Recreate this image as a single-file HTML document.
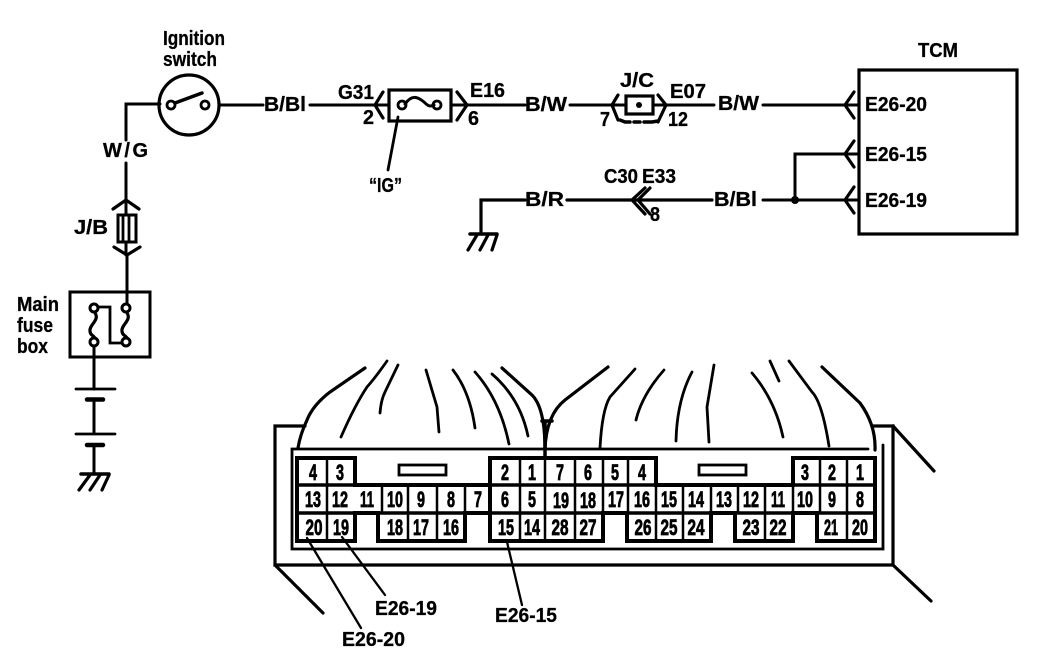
<!DOCTYPE html>
<html><head><meta charset="utf-8"><style>
html,body{margin:0;padding:0;background:#fff;width:1056px;height:654px;overflow:hidden}
svg{display:block}
text{font-family:"Liberation Sans",sans-serif;font-weight:bold;fill:#000;stroke:#000;stroke-width:.3}
.l{font-size:20px}
.n{font-size:22px;text-anchor:middle;stroke-width:.8}
path,line,polyline,circle.o,rect.o{fill:none;stroke:#000;stroke-linecap:round;stroke-linejoin:miter}
</style></head><body>
<svg width="1056" height="654" viewBox="0 0 1056 654" xmlns="http://www.w3.org/2000/svg">
<!-- wires -->
<g stroke-width="3">
<path d="M126 140V104H160M126 163V255M127 255V292"/>
<path d="M219 105H263" stroke-width="3"/>
<path d="M310 105H389M451 105H525" stroke-width="3"/>
<path d="M570 105H626M653 105H714M763 105H858" stroke-width="3"/>
<path d="M858 154H795V200M763 200H858" stroke-width="3"/>
<path d="M481 233V200H525M567 200H712" stroke-width="3.200"/>
<path d="M94 346V389M94 400V433M94 445V474"/>
</g>
<!-- chevrons -->
<g stroke-width="3.200">
<path d="M113 209L126 200L139 209"/>
<path d="M114 247L127 255L140 247"/>
<path d="M383 92L375 105L383 118"/>
<path d="M457 92L467 105L457 120"/>
<path d="M618 95L612 105L618 120"/>
<path d="M658 95L666 105L658 122"/>
<path d="M854 92L845 105L854 118"/>
<path d="M854 141L845 154L854 167"/>
<path d="M854 187L845 200L854 213"/>
<path d="M645 188L632 200L645 214M650 188L638 200L650 214"/>
</g>
<!-- ignition switch -->
<circle class="o" cx="189" cy="105" r="30" stroke-width="3.200"/>
<circle class="o" cx="171" cy="105" r="4" stroke-width="2.800" style="fill:#fff"/>
<circle class="o" cx="205" cy="105" r="4" stroke-width="2.800" style="fill:#fff"/>
<path d="M175 103L202 93" stroke-width="3.500"/>
<!-- J/B fuse -->
<rect class="o" x="118" y="215" width="18" height="27" stroke-width="3" style="fill:#fff"/>
<path d="M123 215V242M129 215V242" stroke-width="2.800"/>
<!-- main fuse box -->
<rect class="o" x="70" y="292" width="80" height="65" stroke-width="3"/>
<path d="M98 307H110V343H122" stroke-width="2.800"/>
<path d="M95 313C100 320 89 325 90 331C90 335 93 335 95 338M127 313C132 320 121 325 122 331C122 335 125 335 127 338" stroke-width="3.200"/>
<path d="M127 292V304" stroke-width="3"/>
<circle class="o" cx="94" cy="308" r="4" stroke-width="3"/>
<circle class="o" cx="94" cy="342" r="4" stroke-width="3"/>
<circle class="o" cx="126" cy="308" r="4" stroke-width="3"/>
<circle class="o" cx="126" cy="342" r="4" stroke-width="3"/>
<!-- battery -->
<path d="M76 389H115M76 434H115" stroke-width="2.800"/>
<path d="M87 399.500H103M87 445H103" stroke-width="4.500"/>
<!-- grounds -->
<path d="M81 474H109M470 234H497" stroke-width="3.500"/>
<path d="M90 475L79 490M100 475L90 490M109 475L102 490M477 235L468 250M488 235L480 250M497 235L492 250" stroke-width="3.200"/>
<!-- G31 fuse -->
<rect class="o" x="389" y="90" width="62" height="31" stroke-width="3.200" style="fill:#fff"/>
<path d="M405 104C412 94 418 97 424 102C428 106 430 107 434 105" stroke-width="3"/>
<circle class="o" cx="402" cy="105" r="4" stroke-width="2.800"/>
<circle class="o" cx="437" cy="105" r="4" stroke-width="2.800"/>
<path d="M398 117L388 170" stroke-width="2.800"/>
<!-- J/C -->
<rect class="o" x="626" y="96" width="27" height="18" stroke-width="3.200" style="fill:#fff"/>
<circle cx="639" cy="105" r="3"/>
<path d="M620 120L625 122H630M634 122H640M644 122H652L658 121" stroke-width="3.500"/>
<!-- TCM -->
<rect class="o" x="859" y="70" width="158" height="164" stroke-width="3.200"/>
<circle cx="795" cy="200" r="4"/>
<!-- connector outer -->
<path d="M305 426H275V565H893V426H872" stroke-width="3.200"/>
<path d="M893 426L934 471M893 565L931 601M275 565L323 613" stroke-width="3.200"/>
<path d="M298 449H868M297 449H292V549H883V445" stroke-width="2.800"/>
<path d="M545 421V458M542 421H552" stroke-width="3.500"/>
<!-- harness -->
<g stroke-width="2.800">
<path d="M365 368L330 392Q313 405 307 420Q300 435 298 448" stroke-width="3.200"/>
<path d="M387 361Q375 378 367 387Q355 405 341 437"/>
<path d="M398 365L385 392Q381 400 380 413"/>
<path d="M426 370L437 407L439 432"/>
<path d="M453 370Q470 392 475 428"/>
<path d="M475 372Q500 400 509 444"/>
<path d="M492 374Q520 398 528 436"/>
<path d="M502 368L532 395Q545 408 545 450" stroke-width="3.200"/>
<path d="M608 367L565 400Q546 415 545 450" stroke-width="3.200"/>
<path d="M635 369L610 397Q602 410 600 448"/>
<path d="M664 370Q642 395 636 420"/>
<path d="M692 372Q677 400 676 441"/>
<path d="M714 365L707 407L709 442"/>
<path d="M752 373Q775 400 783 437"/>
<path d="M770 361L779 381"/>
<path d="M789 361L812 392Q822 402 829 446"/>
<path d="M822 367L860 403Q876 425 875 450" stroke-width="3.200"/>
</g>
<!-- connector grid -->
<path d="M297 458H355V485H490V458H656V485H793V458H875V541H817V513H793V541H735V513H711V541H627V513H603V541H490V513H465V541H378V513H355V541H297Z" stroke-width="4"/>
<path d="M297 485H355M490 485H656M793 485H875M297 513H875" stroke-width="3.500"/>
<path d="M327 458V541M382 485V513M408 485V541M437 485V541M465 485V513M520 458V541M545 458V541M575 458V541M603 458V513M628 458V513M656 485V541M683 485V541M711 485V513M738 485V513M765 485V541M793 485V513M820 458V513M847 458V541" stroke-width="2.500"/>
<path d="M490 458V541" stroke-width="4"/>
<rect class="o" x="399" y="465" width="47" height="10" stroke-width="2.800"/>
<rect class="o" x="699" y="465" width="47" height="10" stroke-width="2.800"/>
<!-- leaders -->
<path d="M307 538L361 628M342 537L385 595M507 542L522 605" stroke-width="2.300"/>
<!-- labels -->
<text class="l" x="163" y="45" textLength="62" lengthAdjust="spacingAndGlyphs">Ignition</text>
<text class="l" x="163" y="66" textLength="54" lengthAdjust="spacingAndGlyphs">switch</text>
<text class="l" x="103" y="157" textLength="45" lengthAdjust="spacing">W/G</text>
<text class="l" x="264" y="111" textLength="42" lengthAdjust="spacingAndGlyphs">B/Bl</text>
<text class="l" x="338" y="99" textLength="36" lengthAdjust="spacingAndGlyphs">G31</text>
<text class="l" x="363" y="124" textLength="11" lengthAdjust="spacingAndGlyphs">2</text>
<text class="l" x="470" y="97" textLength="35" lengthAdjust="spacingAndGlyphs">E16</text>
<text class="l" x="468" y="125" textLength="11" lengthAdjust="spacingAndGlyphs">6</text>
<text class="l" x="525" y="111" textLength="42" lengthAdjust="spacingAndGlyphs">B/W</text>
<text class="l" x="620" y="87" textLength="34" lengthAdjust="spacingAndGlyphs">J/C</text>
<text class="l" x="600" y="126" textLength="10" lengthAdjust="spacingAndGlyphs">7</text>
<text class="l" x="670" y="98" textLength="36" lengthAdjust="spacingAndGlyphs">E07</text>
<text class="l" x="668" y="126" textLength="20" lengthAdjust="spacingAndGlyphs">12</text>
<text class="l" x="718" y="110" textLength="41" lengthAdjust="spacingAndGlyphs">B/W</text>
<text class="l" x="369" y="192" textLength="33" lengthAdjust="spacingAndGlyphs">“IG”</text>
<text class="l" x="604" y="183" textLength="34" lengthAdjust="spacingAndGlyphs">C30</text>
<text class="l" x="642" y="183" textLength="34" lengthAdjust="spacingAndGlyphs">E33</text>
<text class="l" x="525" y="206" textLength="39" lengthAdjust="spacingAndGlyphs">B/R</text>
<text class="l" x="650" y="221" textLength="10" lengthAdjust="spacingAndGlyphs">8</text>
<text class="l" x="714" y="206" textLength="43" lengthAdjust="spacingAndGlyphs">B/Bl</text>
<text class="l" x="918" y="57" textLength="40" lengthAdjust="spacingAndGlyphs">TCM</text>
<text class="l" x="865" y="111" textLength="62" lengthAdjust="spacingAndGlyphs">E26-20</text>
<text class="l" x="865" y="161" textLength="62" lengthAdjust="spacingAndGlyphs">E26-15</text>
<text class="l" x="865" y="207" textLength="62" lengthAdjust="spacingAndGlyphs">E26-19</text>
<text class="l" x="74" y="234" textLength="34" lengthAdjust="spacingAndGlyphs">J/B</text>
<text class="l" x="17" y="311" textLength="42" lengthAdjust="spacingAndGlyphs">Main</text>
<text class="l" x="17" y="332" textLength="36" lengthAdjust="spacingAndGlyphs">fuse</text>
<text class="l" x="17" y="353" textLength="31" lengthAdjust="spacingAndGlyphs">box</text>
<text class="l" x="375" y="615" textLength="62" lengthAdjust="spacingAndGlyphs">E26-19</text>
<text class="l" x="495" y="622" textLength="62" lengthAdjust="spacingAndGlyphs">E26-15</text>
<text class="l" x="342" y="646" textLength="63" lengthAdjust="spacingAndGlyphs">E26-20</text>
<!-- row 1 -->
<text class="n" x="313" y="480" textLength="8" lengthAdjust="spacingAndGlyphs">4</text>
<text class="n" x="340" y="480" textLength="8" lengthAdjust="spacingAndGlyphs">3</text>
<text class="n" x="505" y="480" textLength="8" lengthAdjust="spacingAndGlyphs">2</text>
<text class="n" x="532" y="480" textLength="8" lengthAdjust="spacingAndGlyphs">1</text>
<text class="n" x="560" y="480" textLength="8" lengthAdjust="spacingAndGlyphs">7</text>
<text class="n" x="588" y="480" textLength="8" lengthAdjust="spacingAndGlyphs">6</text>
<text class="n" x="615" y="480" textLength="8" lengthAdjust="spacingAndGlyphs">5</text>
<text class="n" x="642" y="480" textLength="8" lengthAdjust="spacingAndGlyphs">4</text>
<text class="n" x="805" y="480" textLength="8" lengthAdjust="spacingAndGlyphs">3</text>
<text class="n" x="832" y="480" textLength="8" lengthAdjust="spacingAndGlyphs">2</text>
<text class="n" x="860" y="480" textLength="8" lengthAdjust="spacingAndGlyphs">1</text>
<!-- row 2 -->
<text class="n" x="313" y="507" textLength="16" lengthAdjust="spacingAndGlyphs">13</text>
<text class="n" x="340" y="507" textLength="16" lengthAdjust="spacingAndGlyphs">12</text>
<text class="n" x="367" y="507" textLength="14" lengthAdjust="spacingAndGlyphs">11</text>
<text class="n" x="395" y="507" textLength="16" lengthAdjust="spacingAndGlyphs">10</text>
<text class="n" x="421" y="507" textLength="8" lengthAdjust="spacingAndGlyphs">9</text>
<text class="n" x="451" y="507" textLength="8" lengthAdjust="spacingAndGlyphs">8</text>
<text class="n" x="478" y="507" textLength="8" lengthAdjust="spacingAndGlyphs">7</text>
<text class="n" x="505" y="507" textLength="8" lengthAdjust="spacingAndGlyphs">6</text>
<text class="n" x="532" y="507" textLength="8" lengthAdjust="spacingAndGlyphs">5</text>
<text class="n" x="561" y="508" textLength="16" lengthAdjust="spacingAndGlyphs">19</text>
<text class="n" x="588" y="508" textLength="16" lengthAdjust="spacingAndGlyphs">18</text>
<text class="n" x="616" y="507" textLength="16" lengthAdjust="spacingAndGlyphs">17</text>
<text class="n" x="642" y="507" textLength="16" lengthAdjust="spacingAndGlyphs">16</text>
<text class="n" x="669" y="507" textLength="16" lengthAdjust="spacingAndGlyphs">15</text>
<text class="n" x="696" y="507" textLength="16" lengthAdjust="spacingAndGlyphs">14</text>
<text class="n" x="724" y="507" textLength="16" lengthAdjust="spacingAndGlyphs">13</text>
<text class="n" x="751" y="507" textLength="16" lengthAdjust="spacingAndGlyphs">12</text>
<text class="n" x="778" y="507" textLength="14" lengthAdjust="spacingAndGlyphs">11</text>
<text class="n" x="805" y="507" textLength="16" lengthAdjust="spacingAndGlyphs">10</text>
<text class="n" x="832" y="507" textLength="8" lengthAdjust="spacingAndGlyphs">9</text>
<text class="n" x="860" y="507" textLength="8" lengthAdjust="spacingAndGlyphs">8</text>
<!-- row 3 -->
<text class="n" x="314" y="535" textLength="17" lengthAdjust="spacingAndGlyphs">20</text>
<text class="n" x="341" y="535" textLength="16" lengthAdjust="spacingAndGlyphs">19</text>
<text class="n" x="395" y="535" textLength="16" lengthAdjust="spacingAndGlyphs">18</text>
<text class="n" x="421" y="535" textLength="16" lengthAdjust="spacingAndGlyphs">17</text>
<text class="n" x="451" y="535" textLength="16" lengthAdjust="spacingAndGlyphs">16</text>
<text class="n" x="506" y="535" textLength="16" lengthAdjust="spacingAndGlyphs">15</text>
<text class="n" x="532" y="535" textLength="16" lengthAdjust="spacingAndGlyphs">14</text>
<text class="n" x="560" y="535" textLength="17" lengthAdjust="spacingAndGlyphs">28</text>
<text class="n" x="588" y="535" textLength="17" lengthAdjust="spacingAndGlyphs">27</text>
<text class="n" x="643" y="535" textLength="17" lengthAdjust="spacingAndGlyphs">26</text>
<text class="n" x="669" y="535" textLength="17" lengthAdjust="spacingAndGlyphs">25</text>
<text class="n" x="696" y="535" textLength="17" lengthAdjust="spacingAndGlyphs">24</text>
<text class="n" x="751" y="535" textLength="17" lengthAdjust="spacingAndGlyphs">23</text>
<text class="n" x="778" y="535" textLength="17" lengthAdjust="spacingAndGlyphs">22</text>
<text class="n" x="831" y="535" textLength="14" lengthAdjust="spacingAndGlyphs">21</text>
<text class="n" x="860" y="535" textLength="16" lengthAdjust="spacingAndGlyphs">20</text>
</svg>
</body></html>
